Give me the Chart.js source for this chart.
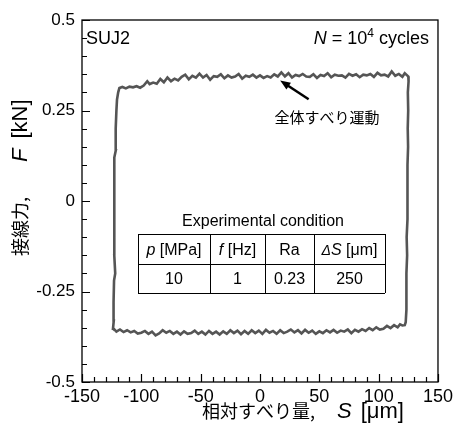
<!DOCTYPE html>
<html>
<head>
<meta charset="utf-8">
<script src="https://cdn.jsdelivr.net/npm/chart.js@4"></script>
<style>
  html, body { margin: 0; padding: 0; background: #fff; }
  #wrap { width: 457px; height: 427px; }
</style>
</head>
<body>
<div id="wrap"><canvas id="GraficoLaco" width="457" height="427"></canvas></div>
<script>
// loop: up the left side, along the top, down the right side, back along the bottom
var ladoEsqS = [-124.0, -123.2, -123.4, -123.0, -122.0, -122.8, -123.0, -122.6, -122.8, -122.7, -121.5, -121.6, -121.0, -120.5, -119.5, -118.5];
var ladoEsqF = [-0.357, -0.33, -0.28, -0.22, -0.20, -0.15, -0.08, 0.0, 0.08, 0.12, 0.14, 0.20, 0.25, 0.28, 0.30, 0.312];

var topoS = [-116, -113, -110, -107, -104, -101, -98, -95, -93, -90, -87, -84, -81, -78, -75, -72, -69, -66, -63, -60, -57, -54, -51, -48, -45, -42, -39, -36, -33, -30, -27, -24, -21, -18, -15, -12, -9, -6, -3, 0,
             3, 6, 9, 12, 15, 18, 21, 24, 27, 30, 33, 36, 39, 42, 45, 48, 51, 54, 57, 60, 63, 66, 69, 72, 75, 78, 81, 84, 87, 90, 93, 96, 99, 102, 105, 108, 111, 114, 117, 120, 122, 124, 125];
var topoF = [0.315, 0.311, 0.316, 0.314, 0.317, 0.313, 0.319, 0.331, 0.323, 0.327, 0.324, 0.337, 0.328, 0.341, 0.331, 0.338, 0.333, 0.343, 0.349, 0.336, 0.346, 0.341, 0.352, 0.341, 0.348, 0.335, 0.345, 0.343, 0.350, 0.339, 0.347, 0.341, 0.344, 0.351, 0.338, 0.346, 0.343, 0.349, 0.341, 0.347,
             0.340, 0.345, 0.341, 0.350, 0.344, 0.355, 0.344, 0.353, 0.341, 0.348, 0.345, 0.351, 0.344, 0.343, 0.350, 0.340, 0.348, 0.345, 0.353, 0.342, 0.349, 0.346, 0.347, 0.341, 0.351, 0.346, 0.350, 0.342, 0.349, 0.347, 0.351, 0.343, 0.354, 0.347, 0.349, 0.344, 0.358, 0.346, 0.351, 0.343, 0.353, 0.347, 0.344];

var ladoDirS = [125.2, 124.6, 124.9, 124.5, 124.8, 124.3, 124.6, 124.0, 124.3, 123.6, 124.0, 123.4, 123.7, 123.1, 122.8, 122.0];
var ladoDirF = [0.33, 0.30, 0.25, 0.20, 0.15, 0.10, 0.05, 0.0, -0.05, -0.10, -0.15, -0.20, -0.25, -0.30, -0.335, -0.343];

var baseS = [120, 118, 116, 113, 110, 107, 104, 101, 98, 95, 92, 89, 86, 83, 80, 77, 74, 71, 68, 65, 62, 59, 56, 53, 50, 47, 44, 41, 38, 35, 32, 29, 26, 23, 20, 17, 14, 11, 8, 5, 2,
             -1, -4, -7, -10, -13, -16, -19, -22, -25, -28, -31, -34, -37, -40, -43, -46, -49, -52, -55, -58, -61, -64, -67, -70, -73, -76, -79, -82, -85, -88, -91, -94, -97, -100, -103, -106, -109, -112, -115, -118, -121, -123, -124];
var baseF = [-0.344, -0.341, -0.349, -0.343, -0.351, -0.345, -0.353, -0.355, -0.349, -0.357, -0.351, -0.359, -0.354, -0.361, -0.356, -0.365, -0.355, -0.361, -0.358, -0.364, -0.356, -0.363, -0.357, -0.365, -0.360, -0.367, -0.358, -0.364, -0.356, -0.366, -0.357, -0.363, -0.355, -0.361, -0.365, -0.357, -0.367, -0.359, -0.364, -0.356, -0.367,
             -0.358, -0.365, -0.357, -0.367, -0.359, -0.368, -0.358, -0.365, -0.357, -0.367, -0.360, -0.369, -0.361, -0.367, -0.359, -0.369, -0.361, -0.367, -0.358, -0.365, -0.367, -0.360, -0.369, -0.361, -0.367, -0.359, -0.364, -0.357, -0.366, -0.371, -0.361, -0.367, -0.359, -0.364, -0.366, -0.359, -0.363, -0.357, -0.362, -0.355, -0.361, -0.354, -0.357];

var ticksX = [-150, -100, -50, 0, 50, 100, 150];
var ticksY = [-0.5, -0.25, 0, 0.25, 0.5];

// table of the experimental condition
var tabelaCab = ["p", "f", "Ra", "ΔS"];
var tabelaUni = [" [MPa]", " [Hz]", "", " [μm]"];
var tabelaVal = ["10", "1", "0.23", "250"];

var FONTE = "'Liberation Sans', Arial, 'Noto Sans CJK JP', sans-serif";
var FONTE_JP = "'Noto Sans CJK JP', sans-serif";

function MontarPontos() {
    var pts = [];
    var s = ladoEsqS.concat(topoS, ladoDirS, baseS);
    var f = ladoEsqF.concat(topoF, ladoDirF, baseF);
    for (var i = 0; i < s.length; i++) pts.push({ x: s[i], y: f[i] });
    return pts;
}

// draws parts of text one after another, each with its own font
function Partes(ctx, partes, x, y) {
    for (var i = 0; i < partes.length; i++) {
        var p = partes[i];
        ctx.font = p.f;
        x += (p.gap || 0);
        ctx.fillText(p.t, x, y + (p.dy || 0));
        x += ctx.measureText(p.t).width;
    }
    return x;
}
function LarguraPartes(ctx, partes) {
    var w = 0;
    for (var i = 0; i < partes.length; i++) { ctx.font = partes[i].f; w += ctx.measureText(partes[i].t).width + (partes[i].gap || 0); }
    return w;
}

var extras = {
    id: 'extras',
    afterDraw: function (chart) {
        var ctx = chart.ctx;
        var a = chart.chartArea;
        var sx = chart.scales.x, sy = chart.scales.y;
        ctx.save();
        ctx.strokeStyle = '#000';
        ctx.fillStyle = '#000';
        ctx.lineWidth = 1.3;
        ctx.strokeRect(a.left, a.top, a.right - a.left, a.bottom - a.top);

        // inner ticks
        ctx.lineWidth = 1.2;
        ctx.beginPath();
        for (var v = -150; v <= 150; v += 10) {
            var px = Math.round(sx.getPixelForValue(v)) + 0.5;
            var len = (v % 50 === 0) ? 8 : 5;
            ctx.moveTo(px, a.bottom); ctx.lineTo(px, a.bottom - len);
        }
        for (var k = -10; k <= 10; k++) {
            var py = Math.round(sy.getPixelForValue(k * 0.05)) + 0.5;
            var l2 = (k % 5 === 0) ? 8 : 5;
            ctx.moveTo(a.left, py); ctx.lineTo(a.left + l2, py);
        }
        ctx.stroke();

        ctx.textBaseline = 'alphabetic';
        ctx.textAlign = 'left';

        // labels inside the frame
        ctx.font = '18px ' + FONTE;
        ctx.fillText('SUJ2', a.left + 4, a.top + 24);
        var nParts = [
            { t: 'N', f: 'italic 18px ' + FONTE },
            { t: ' = 10', f: '18px ' + FONTE },
            { t: '4', f: '12px ' + FONTE, dy: -7 },
            { t: ' cycles', f: '18px ' + FONTE }
        ];
        Partes(ctx, nParts, a.right - 9 - LarguraPartes(ctx, nParts), a.top + 24);

        // arrow and note
        var x0 = sx.getPixelForValue(41), y0 = sy.getPixelForValue(0.281);
        var x1 = sx.getPixelForValue(17), y1 = sy.getPixelForValue(0.333);
        ctx.lineWidth = 2.5;
        ctx.beginPath(); ctx.moveTo(x0, y0); ctx.lineTo(x1 + 6, y1 + 4); ctx.stroke();
        var ang = Math.atan2(y1 - y0, x1 - x0);
        ctx.beginPath();
        ctx.moveTo(x1, y1);
        ctx.lineTo(x1 - 11 * Math.cos(ang - 0.38), y1 - 11 * Math.sin(ang - 0.38));
        ctx.lineTo(x1 - 11 * Math.cos(ang + 0.38), y1 - 11 * Math.sin(ang + 0.38));
        ctx.closePath(); ctx.fill();
        ctx.font = '15px ' + FONTE_JP;
        ctx.textAlign = 'center';
        ctx.fillText('全体すべり運動', 327, 123);

        // experimental condition table
        ctx.font = '16px ' + FONTE;
        ctx.fillText('Experimental condition', 263, 226);
        var cols = [138, 210, 265, 314, 385];
        var rows = [234, 264, 293];
        ctx.lineWidth = 1;
        ctx.beginPath();
        for (var r = 0; r < rows.length; r++) { ctx.moveTo(cols[0], rows[r] + 0.5); ctx.lineTo(cols[4], rows[r] + 0.5); }
        for (var c = 0; c < cols.length; c++) { ctx.moveTo(cols[c] + 0.5, rows[0]); ctx.lineTo(cols[c] + 0.5, rows[2]); }
        ctx.stroke();
        ctx.textAlign = 'left';
        for (var j = 0; j < tabelaCab.length; j++) {
            var cab = [];
            if (tabelaCab[j] === 'ΔS') {
                cab.push({ t: 'Δ', f: 'italic 14px ' + FONTE });
                cab.push({ t: 'S', f: 'italic 16px ' + FONTE });
            } else if (tabelaCab[j] === 'Ra') {
                cab.push({ t: 'Ra', f: '16px ' + FONTE });
            } else {
                cab.push({ t: tabelaCab[j], f: 'italic 16px ' + FONTE });
            }
            cab.push({ t: tabelaUni[j], f: '16px ' + FONTE });
            var cx = (cols[j] + cols[j + 1]) / 2;
            Partes(ctx, cab, cx - LarguraPartes(ctx, cab) / 2, 255);
            ctx.font = '16px ' + FONTE;
            ctx.textAlign = 'center';
            ctx.fillText(tabelaVal[j], cx, 284);
            ctx.textAlign = 'left';
        }

        // axis titles
        ctx.font = '18px ' + FONTE_JP;
        ctx.fillText('相対すべり量,', 202, 418);
        Partes(ctx, [
            { t: 'S', f: 'italic 22px ' + FONTE },
            { t: '[μm]', f: '22px ' + FONTE, gap: 9 }
        ], 337, 418);

        ctx.translate(27, 0);
        ctx.rotate(-Math.PI / 2);
        ctx.font = '18px ' + FONTE_JP;
        ctx.fillText('接線力,', -256, 0);
        Partes(ctx, [
            { t: 'F', f: 'italic 22px ' + FONTE },
            { t: '[kN]', f: '22px ' + FONTE, gap: 10 }
        ], -162, 0);
        ctx.restore();
    }
};

var ctx = document.getElementById('GraficoLaco').getContext('2d');
var grafico = new Chart(ctx, {
    type: 'scatter',
    data: {
        datasets: [
            {
                label: 'F-S',
                data: MontarPontos(),
                showLine: true,
                borderColor: '#555555',
                borderWidth: 2.6,
                pointRadius: 0,
                tension: 0,
                fill: false
            }
        ]
    },
    options: {
        responsive: false,
        animation: false,
        layout: { padding: { left: 20, right: 15, top: 20, bottom: 20 } },
        plugins: {
            legend: { display: false },
            tooltip: { enabled: false }
        },
        scales: {
            x: {
                type: 'linear',
                min: -150,
                max: 150,
                afterBuildTicks: function (scale) {
                    scale.ticks = ticksX.map(function (v) { return { value: v }; });
                },
                afterFit: function (scale) { scale.height = 25; },
                grid: { display: false, drawTicks: false },
                border: { display: false },
                ticks: {
                    color: '#000',
                    padding: 4,
                    maxRotation: 0,
                    font: { family: FONTE, size: 18 }
                }
            },
            y: {
                type: 'linear',
                min: -0.5,
                max: 0.5,
                afterBuildTicks: function (scale) {
                    scale.ticks = ticksY.map(function (v) { return { value: v }; });
                },
                afterFit: function (scale) { scale.width = 62; },
                grid: { display: false, drawTicks: false },
                border: { display: false },
                ticks: {
                    color: '#000',
                    padding: 7,
                    font: { family: FONTE, size: 17 },
                    callback: function (v) { return String(v); }
                }
            }
        }
    },
    plugins: [extras]
});
</script>
</body>
</html>
